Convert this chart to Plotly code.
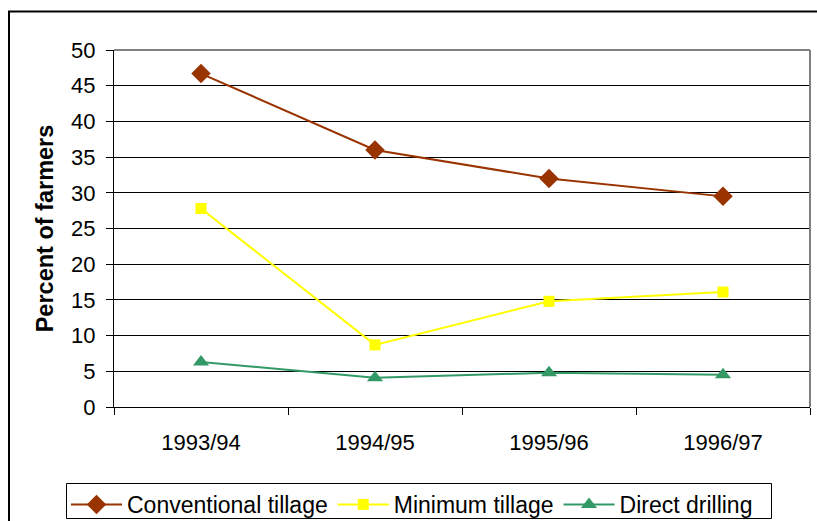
import plotly.graph_objects as go

seasons = ["1993/94", "1994/95", "1995/96", "1996/97"]
conventional = [46.7, 36.0, 32.0, 29.5]
minimum = [27.8, 8.7, 14.8, 16.1]
direct = [6.3, 4.1, 4.8, 4.5]

W, H = 817, 521
L, R, T, B = 114, 7, 50, 114
pw, ph = W - L - R, H - T - B

def px(x):
    return (x - L) / pw

def py(y):
    return (H - B - y) / ph

fig = go.Figure()
fig.add_trace(go.Scatter(x=seasons, y=conventional, name="Conventional tillage",
                         mode="lines+markers",
                         line=dict(color="#993300", width=2),
                         marker=dict(symbol="diamond", size=15, color="#993300")))
fig.add_trace(go.Scatter(x=seasons, y=minimum, name="Minimum tillage",
                         mode="lines+markers",
                         line=dict(color="#FFFF00", width=2),
                         marker=dict(symbol="square", size=11, color="#FFFF00")))
fig.add_trace(go.Scatter(x=seasons, y=direct, name="Direct drilling",
                         mode="lines+markers",
                         line=dict(color="#339966", width=2),
                         marker=dict(symbol="triangle-up", size=14, color="#339966")))

font = "Liberation Sans, Arial, sans-serif"

fig.update_layout(
    width=W, height=H,
    margin=dict(l=L, r=R, t=T, b=B, pad=0, autoexpand=False),
    paper_bgcolor="white", plot_bgcolor="white",
    font=dict(family=font, size=22, color="black"),
    showlegend=True,
    legend=dict(orientation="h", x=px(66), y=py(483), xanchor="left", yanchor="top",
                borderwidth=0, font=dict(size=23),
                bgcolor="rgba(0,0,0,0)", itemwidth=51, tracegroupgap=0),
    xaxis=dict(type="category", range=[-0.5, 3.5], tickson="boundaries",
               ticks="outside", ticklen=7, tickcolor="black", tickwidth=1,
               showline=True, linecolor="black", linewidth=1, automargin=False,
               showgrid=False, zeroline=False, ticklabelstandoff=16),
    yaxis=dict(range=[0, 50], dtick=5, ticks="outside", ticklen=7,
               tickcolor="black", tickwidth=1, showline=True, linecolor="black",
               linewidth=1, showgrid=True, gridcolor="black", gridwidth=1,
               zeroline=False, ticklabelstandoff=6, automargin=False,
               title=dict(text="<b>Percent of farmers</b>", standoff=10,
                          font=dict(size=23.5))),
    shapes=[
        dict(type="line", xref="paper", yref="paper", x0=0, x1=1, y0=1, y1=1,
             line=dict(color="#808080", width=2), layer="above"),
        dict(type="line", xref="paper", yref="paper", x0=1, x1=1, y0=0, y1=1,
             line=dict(color="#808080", width=2), layer="above"),
        dict(type="rect", xref="paper", yref="paper", x0=px(9), x1=px(830),
             y0=py(530), y1=py(11.5), line=dict(color="black", width=2),
             fillcolor="rgba(0,0,0,0)", layer="above"),
        dict(type="rect", xref="paper", yref="paper", x0=px(66.5), x1=px(771.5),
             y0=py(518.5), y1=py(483.5), line=dict(color="black", width=1),
             fillcolor="rgba(0,0,0,0)", layer="above"),
    ],
)

fig.write_html("out.html", config={"displayModeBar": False},
               post_script="document.body.style.margin='0px';")
